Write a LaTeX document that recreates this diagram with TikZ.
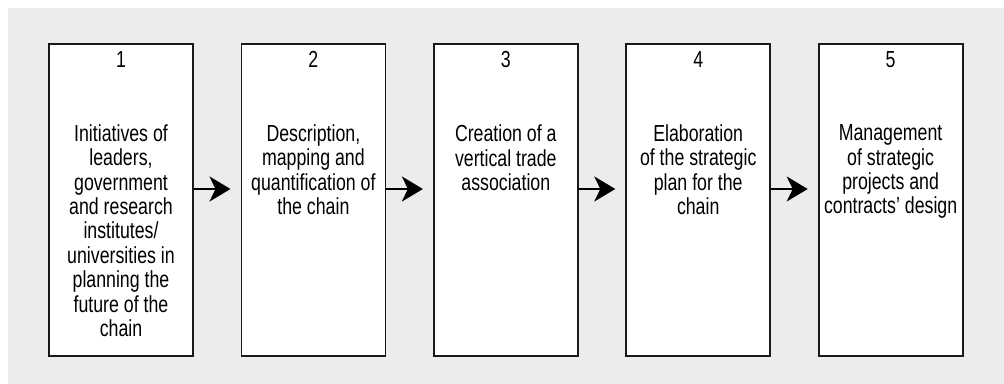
\documentclass[tikz,border=0pt]{standalone}
\usepackage{fontspec}
\setmainfont{Liberation Sans}[FakeStretch=0.765]
\usetikzlibrary{arrows.meta,positioning}

\begin{document}
\begin{tikzpicture}[x=0.5pt,y=-0.5pt,>={Stealth[length=10.5pt,width=12.5pt,inset=3pt]},
                    node distance=96.2pt,
                    stage node/.style={rectangle,draw=black!90,line width=0.9pt,fill=white,
                      minimum width=72pt,minimum height=156pt,inner sep=0pt},
                    num node/.style={anchor=north,inner sep=3.8pt,font=\fontsize{11.6}{12.2}\selectfont},
                    text node/.style={align=center,inner sep=0pt,font=\fontsize{11.6}{12.2}\selectfont}]

      \useasboundingbox (0,0) rectangle (1004,384);
      \fill[gray!15] (8,8) rectangle (1004,384);

      \node[stage node] (s1) at (121,200) {};
      \node[stage node] (s2) [right of=s1] {};
      \node[stage node] (s3) [right of=s2] {};
      \node[stage node] (s4) [right of=s3] {};
      \node[stage node] (s5) [right of=s4] {};

      \node[num node] (n1) at (s1.north) {1};
      \node[num node] (n2) at (s2.north) {2};
      \node[num node] (n3) at (s3.north) {3};
      \node[num node] (n4) at (s4.north) {4};
      \node[num node] (n5) at (s5.north) {5};

      \node[text node] (t1) [below=24.5pt of n1] {Initiatives of\\leaders,\\government\\and research\\institutes/\\universities in\\planning the\\future of the\\chain};
      \node[text node] (t2) [below=24.5pt of n2] {Description,\\mapping and\\quantification of\\the chain};
      \node[text node] (t3) [below=24.5pt of n3] {Creation of a\\vertical trade\\association};
      \node[text node] (t4) [below=24.5pt of n4] {Elaboration\\of the strategic\\plan for the\\chain};
      \node[text node] (t5) [below=24.5pt of n5] {Management\\of strategic\\projects and\\contracts' design};

      \path[->,line width=1pt,shorten >=5pt]
        ([yshift=5.5pt]s1.east) edge ([yshift=5.5pt]s2.west)
        ([yshift=5.5pt]s2.east) edge ([yshift=5.5pt]s3.west)
        ([yshift=5.5pt]s3.east) edge ([yshift=5.5pt]s4.west)
        ([yshift=5.5pt]s4.east) edge ([yshift=5.5pt]s5.west);
    \end{tikzpicture}
\end{document}
